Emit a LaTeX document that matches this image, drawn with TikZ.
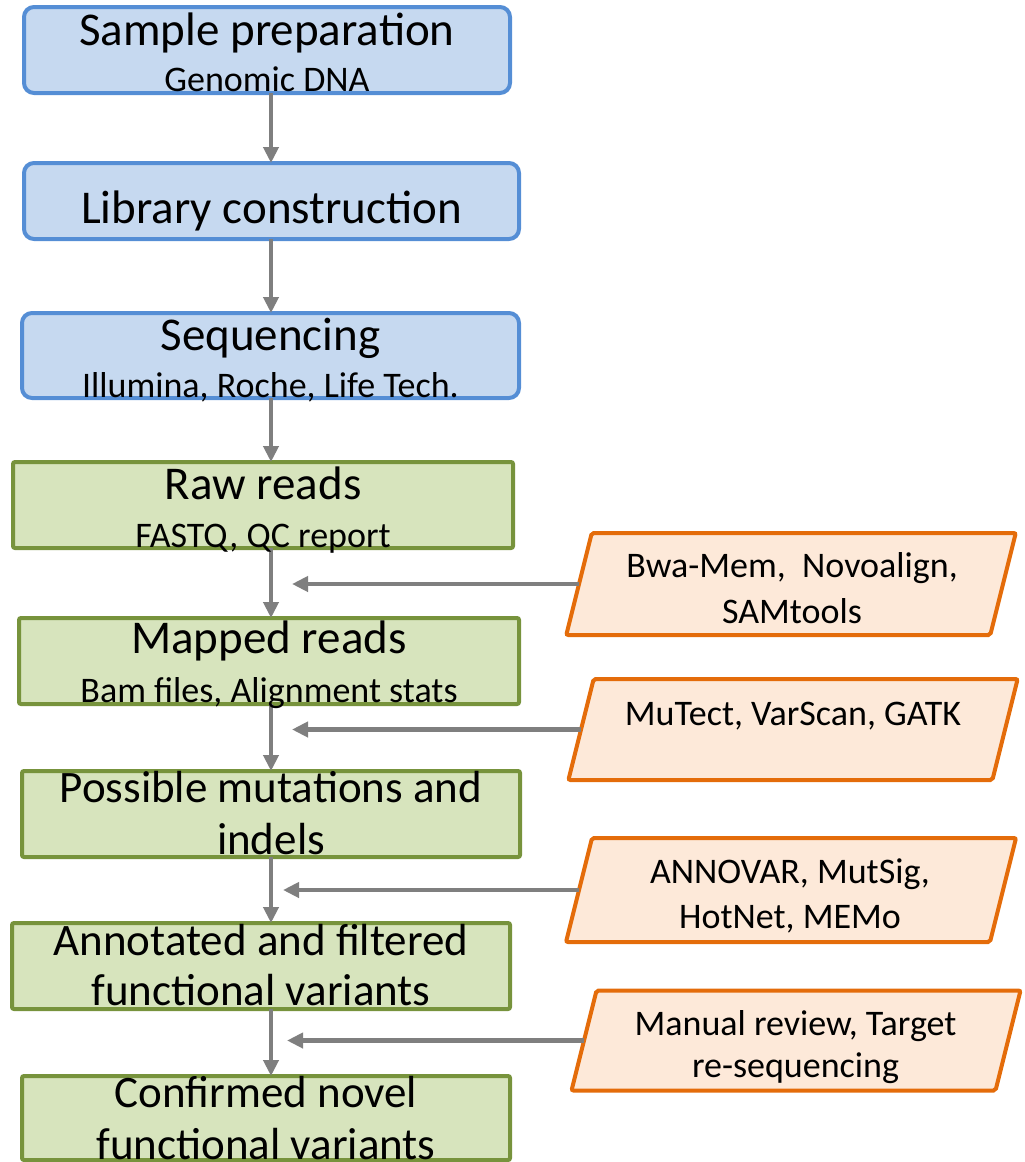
\documentclass[tikz,border=0pt]{standalone}
\usepackage{fontspec}
\setmainfont{Carlito}
\usetikzlibrary{arrows.meta}
\definecolor{bluefill}{RGB}{198,217,240}
\definecolor{blueline}{RGB}{85,142,213}
\definecolor{greenfill}{RGB}{215,228,189}
\definecolor{greenline}{RGB}{119,147,60}
\definecolor{orangefill}{RGB}{253,233,217}
\definecolor{orangeline}{RGB}{228,108,10}
\definecolor{arrowgray}{RGB}{127,127,127}
\begin{document}
\begin{tikzpicture}[x=1pt,y=-1pt,
 bluebox/.style={draw=blueline, fill=bluefill, line width=4pt, rounded corners=10pt, inner sep=0pt, outer sep=0pt},
 greenbox/.style={draw=greenline, fill=greenfill, line width=4pt, rounded corners=2pt, inner sep=0pt, outer sep=0pt},
 toolbox/.style={rectangle, xslant=0.25, transform shape, draw=orangeline, fill=orangefill, line width=4pt, rounded corners=2pt, inner sep=0pt, outer sep=0pt, minimum width=424pt},
 ttl/.style={anchor=base, inner sep=0pt, font=\fontsize{47}{56}\selectfont},
 ttltwo/.style={anchor=base, inner sep=0pt, font=\fontsize{45}{54}\selectfont},
 sub/.style={anchor=base, inner sep=0pt, font=\fontsize{36}{44}\selectfont},
 tool/.style={anchor=base, inner sep=0pt, font=\fontsize{36}{44}\selectfont},
 arr/.style={draw=arrowgray, line width=4.5pt, -{Triangle[length=16pt,width=15pt]}}
]
\useasboundingbox (0,0) rectangle (1025,1162);

% process boxes
\node[bluebox, minimum width=486pt, minimum height=86pt] (b1) at (267,50) {};
\node[bluebox, minimum width=495pt, minimum height=76pt] (b2) at (271.5,201) {};
\node[bluebox, minimum width=497pt, minimum height=85pt] (b3) at (270.5,355.5) {};
\node[greenbox, minimum width=500pt, minimum height=86pt] (g1) at (263,505) {};
\node[greenbox, minimum width=500pt, minimum height=86pt] (g2) at (269,661) {};
\node[greenbox, minimum width=498pt, minimum height=86pt] (g3) at (271,814) {};
\node[greenbox, minimum width=498pt, minimum height=86pt] (g4) at (261,966) {};
\node[greenbox, minimum width=488pt, minimum height=84pt] (g5) at (266,1118) {};

% tool boxes (parallelograms)
\begin{scope}[shift={(791,584)}]
\node[toolbox, minimum height=102pt] (p1) at (0,0) {};
\end{scope}
\begin{scope}[shift={(793,729.5)}]
\node[toolbox, minimum height=101pt] (p2) at (0,0) {};
\end{scope}
\begin{scope}[shift={(791,890)}]
\node[toolbox, minimum height=104pt] (p3) at (0,0) {};
\end{scope}
\begin{scope}[shift={(796,1040.5)}]
\node[toolbox, minimum height=100pt] (p4) at (0,0) {};
\end{scope}

% connectors
\coordinate (axis) at (271,0);
\draw[arr] (b1.south -| axis) -- (b2.north -| axis);
\draw[arr] (b2.south -| axis) -- (b3.north -| axis);
\draw[arr] (b3.south -| axis) -- (g1.north -| axis);
\draw[arr] (g1.south -| axis) -- (g2.north -| axis);
\draw[arr] (g2.south -| axis) -- (g3.north -| axis);
\draw[arr] (g3.south -| axis) -- (g4.north -| axis);
\draw[arr] (g4.south -| axis) -- (g5.north -| axis);

\coordinate (h1) at (292,0);
\coordinate (h2) at (292,0);
\coordinate (h3) at (283,0);
\coordinate (h4) at (287,0);
\draw[arr] (p1.west) -- (p1.west -| h1);
\draw[arr] (p2.west) -- (p2.west -| h2);
\draw[arr] (p3.west) -- (p3.west -| h3);
\draw[arr] (p4.west) -- (p4.west -| h4);

% texts
\node[ttl] (t1) at (267,45) {Sample preparation};
\node[sub] (s1) at (267,91) {Genomic DNA};
\node[ttl] (t2) at (271.5,223) {Library construction};
\node[ttl] (t3) at (270.5,350) {Sequencing};
\node[sub] (s3) at (270.5,397) {Illumina, Roche, Life Tech.};
\node[ttl] (t4) at (263,499) {Raw reads};
\node[sub] (s4) at (263,547) {FASTQ, QC report};
\node[ttl] (t5) at (269,653) {Mapped reads};
\node[sub] (s5) at (269,702) {Bam files, Alignment stats};
\node[ttltwo] (t6a) at (271,802) {Possible mutations and};
\node[ttltwo] (t6b) at (271,854) {indels};
\node[ttltwo] (t7a) at (261,955) {Annotated and filtered};
\node[ttltwo] (t7b) at (261,1005) {functional variants};
\node[ttltwo] (t8a) at (266,1107) {Confirmed novel};
\node[ttltwo] (t8b) at (266,1159) {functional variants};

\node[tool] (q1a) at (792,577) {Bwa-Mem,\ \ Novoalign,};
\node[tool] (q1b) at (792,623) {SAMtools};
\node[tool] (q2) at (793,725) {MuTect, VarScan, GATK};
\node[tool] (q3a) at (790,883) {ANNOVAR, MutSig,};
\node[tool] (q3b) at (790,928) {HotNet, MEMo};
\node[tool] (q4a) at (795.5,1035) {Manual review, Target};
\node[tool] (q4b) at (795.5,1077) {re-sequencing};
\end{tikzpicture}
\end{document}
